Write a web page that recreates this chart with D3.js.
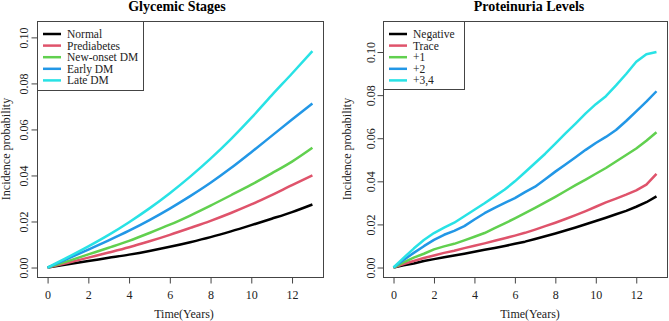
<!DOCTYPE html>
<html>
<head>
<meta charset="utf-8">
<script src="https://cdn.jsdelivr.net/npm/d3@7"></script>
<style>
  body { margin: 0; background: #fff; }
  svg { display: block; font-family: "Liberation Serif", "Times New Roman", serif; }
</style>
</head>
<body>
<svg id="chart" width="669" height="321"></svg>
<script>
// Glycemic stages, read once a year
const glyYears = [0, 1, 2, 3, 4, 5, 6, 7, 8, 9, 10, 11, 12, 13];
const glycemicLabels = ["Normal", "Prediabetes", "New-onset DM", "Early DM", "Late DM"];
const normal      = [0, 0.0014, 0.0028, 0.0042, 0.0056, 0.0072, 0.0090, 0.0110, 0.0132, 0.0157, 0.0184, 0.0212, 0.0241, 0.0274];
const prediabetes = [0, 0.0021, 0.0043, 0.0065, 0.0088, 0.0114, 0.0142, 0.0172, 0.0203, 0.0237, 0.0274, 0.0315, 0.0358, 0.0400];
const newOnsetDM  = [0, 0.0028, 0.0057, 0.0086, 0.0116, 0.0150, 0.0186, 0.0226, 0.0269, 0.0314, 0.0360, 0.0409, 0.0460, 0.0520];
const earlyDM     = [0, 0.0039, 0.0078, 0.0118, 0.0160, 0.0206, 0.0256, 0.0310, 0.0368, 0.0432, 0.0501, 0.0572, 0.0643, 0.0713];
const lateDM      = [0, 0.0045, 0.0092, 0.0142, 0.0197, 0.0257, 0.0323, 0.0395, 0.0473, 0.0558, 0.0650, 0.0748, 0.0843, 0.0940];

// Proteinuria levels, read every half year
const protYears = [0, 0.5, 1, 1.5, 2, 2.5, 3, 3.5, 4, 4.5, 5, 5.5, 6, 6.5, 7, 7.5, 8, 8.5, 9, 9.5, 10, 10.5, 11, 11.5, 12, 12.5, 13];
const proteinLabels = ["Negative", "Trace", "+1", "+2", "+3,4"];
const negative = [0, 0.0010, 0.0019, 0.0030, 0.0039, 0.0048, 0.0056, 0.0064, 0.0073, 0.0082, 0.0091, 0.0100, 0.0110,
                  0.0120, 0.0132, 0.0145, 0.0158, 0.0172, 0.0186, 0.0201, 0.0216, 0.0231, 0.0247, 0.0263, 0.0282, 0.0303, 0.0330];
const trace    = [0, 0.0016, 0.0030, 0.0044, 0.0056, 0.0068, 0.0078, 0.0090, 0.0101, 0.0112, 0.0124, 0.0136, 0.0148,
                  0.0161, 0.0176, 0.0192, 0.0208, 0.0225, 0.0243, 0.0262, 0.0282, 0.0302, 0.0320, 0.0338, 0.0358, 0.0385, 0.0435];
const plus1    = [0, 0.0024, 0.0046, 0.0064, 0.0084, 0.0098, 0.0110, 0.0126, 0.0143, 0.0160, 0.0183, 0.0205, 0.0228,
                  0.0252, 0.0277, 0.0302, 0.0328, 0.0355, 0.0382, 0.0408, 0.0435, 0.0462, 0.0492, 0.0522, 0.0552, 0.0588, 0.0628];
const plus2    = [0, 0.0035, 0.0068, 0.0099, 0.0128, 0.0152, 0.0170, 0.0192, 0.0223, 0.0252, 0.0277, 0.0300, 0.0322,
                  0.0350, 0.0375, 0.0410, 0.0445, 0.0478, 0.0512, 0.0546, 0.0578, 0.0606, 0.0638, 0.0680, 0.0725, 0.0770, 0.0818];
const plus34   = [0, 0.0045, 0.0088, 0.0128, 0.0160, 0.0185, 0.0208, 0.0238, 0.0268, 0.0298, 0.0330, 0.0362, 0.0400,
                  0.0442, 0.0485, 0.0528, 0.0575, 0.0622, 0.0668, 0.0715, 0.0758, 0.0795, 0.0845, 0.0898, 0.0955, 0.0990, 0.1000];

const xTicks = [0, 2, 4, 6, 8, 10, 12];
const yTicks = [0, 0.02, 0.04, 0.06, 0.08, 0.10];

const palette = ["#000000", "#DF536B", "#61D04F", "#2297E6", "#28E2E5"];

const svg = d3.select("#chart");

function drawPanel({title, labels, years, series, curve, ymax, box, titleX, xLabelX, yTickX, yLabelX, legendW, legendH}) {
    // R style 4% padding on both axes
    const xPad = 13 * 0.04, yPad = ymax * 0.04;
    const x = d3.scaleLinear().domain([-xPad, 13 + xPad]).range([box.left, box.right]);
    const y = d3.scaleLinear().domain([-yPad, ymax + yPad]).range([box.bottom, box.top]);

    const g = svg.append("g");

    g.append("text")
        .attr("x", titleX)
        .attr("y", 11)
        .attr("text-anchor", "middle")
        .style("font-weight", "bold")
        .style("font-size", "14px")
        .text(title);

    // curves
    const line = d3.line()
        .x((d, i) => x(years[i]))
        .y(d => y(d))
        .curve(curve);

    series.forEach((s, i) => {
        g.append("path")
            .attr("d", line(s))
            .attr("fill", "none")
            .attr("stroke", palette[i])
            .attr("stroke-width", 2.5)
            .attr("stroke-linejoin", "round");
    });

    // box
    g.append("rect")
        .attr("x", box.left + 0.5)
        .attr("y", box.top + 0.5)
        .attr("width", box.right - box.left)
        .attr("height", box.bottom - box.top)
        .attr("fill", "none")
        .attr("stroke", "#444");

    // x axis
    const xAxis = g.append("g")
        .attr("transform", "translate(0," + (box.bottom + 0.5) + ")")
        .call(d3.axisBottom(x).tickValues(xTicks).tickSize(6).tickPadding(7).tickFormat(d3.format("d")));
    xAxis.select(".domain").attr("d", "M" + x(0) + ",0H" + x(12)).attr("stroke", "#444");
    xAxis.selectAll(".tick line").attr("stroke", "#444");
    xAxis.selectAll("text")
        .style("font-size", "12px")
        .style("font-family", "Liberation Serif")
        .attr("fill", "#222");

    // y axis
    const yAxis = g.append("g")
        .attr("transform", "translate(" + (box.left + 0.5) + ",0)")
        .call(d3.axisLeft(y).tickValues(yTicks).tickSize(6).tickFormat(d3.format(".2f")));
    yAxis.select(".domain").attr("d", "M0," + y(0) + "V" + y(0.10)).attr("stroke", "#444");
    yAxis.selectAll(".tick line").attr("stroke", "#444");
    yAxis.selectAll("text")
        .attr("x", null).attr("dy", null)
        .attr("transform", "translate(" + (yTickX - box.left) + ",0) rotate(-90)")
        .attr("text-anchor", "middle")
        .style("font-size", "12px")
        .style("font-family", "Liberation Serif")
        .attr("fill", "#222");

    g.append("text")
        .attr("transform", "translate(" + yLabelX + "," + ((box.top + box.bottom) / 2) + ") rotate(-90)")
        .attr("text-anchor", "middle")
        .style("font-size", "12px")
        .attr("fill", "#222")
        .text("Incidence probability");

    g.append("text")
        .attr("x", xLabelX)
        .attr("y", 318)
        .attr("text-anchor", "middle")
        .style("font-size", "12px")
        .attr("fill", "#222")
        .text("Time(Years)");

    // legend
    const leg = g.append("g").attr("transform", "translate(" + box.left + "," + box.top + ")");
    leg.append("rect")
        .attr("x", 0.5).attr("y", 0.5)
        .attr("width", legendW).attr("height", legendH)
        .attr("fill", "#fff")
        .attr("stroke", "#444");
    labels.forEach((lab, i) => {
        const ly = 13 + i * 11.6;
        leg.append("line")
            .attr("x1", 6).attr("x2", 24)
            .attr("y1", ly).attr("y2", ly)
            .attr("stroke", palette[i])
            .attr("stroke-width", 2.5);
        leg.append("text")
            .attr("x", 30).attr("y", ly + 4)
            .style("font-size", "11.5px")
            .attr("fill", "#222")
            .text(lab);
    });
}

drawPanel({
    title: "Glycemic Stages",
    labels: glycemicLabels,
    years: glyYears,
    series: [normal, prediabetes, newOnsetDM, earlyDM, lateDM],
    curve: d3.curveMonotoneX,
    ymax: 0.103,
    box: {left: 37, right: 323, top: 21, bottom: 277},
    titleX: 177, xLabelX: 184,
    yTickX: 27, yLabelX: 10,
    legendW: 106, legendH: 69
});

drawPanel({
    title: "Proteinuria Levels",
    labels: proteinLabels,
    years: protYears,
    series: [negative, trace, plus1, plus2, plus34],
    curve: d3.curveLinear,
    ymax: 0.110,
    box: {left: 383, right: 667, top: 21, bottom: 277},
    titleX: 529, xLabelX: 530,
    yTickX: 374, yLabelX: 351,
    legendW: 81, legendH: 68
});
</script>
</body>
</html>
